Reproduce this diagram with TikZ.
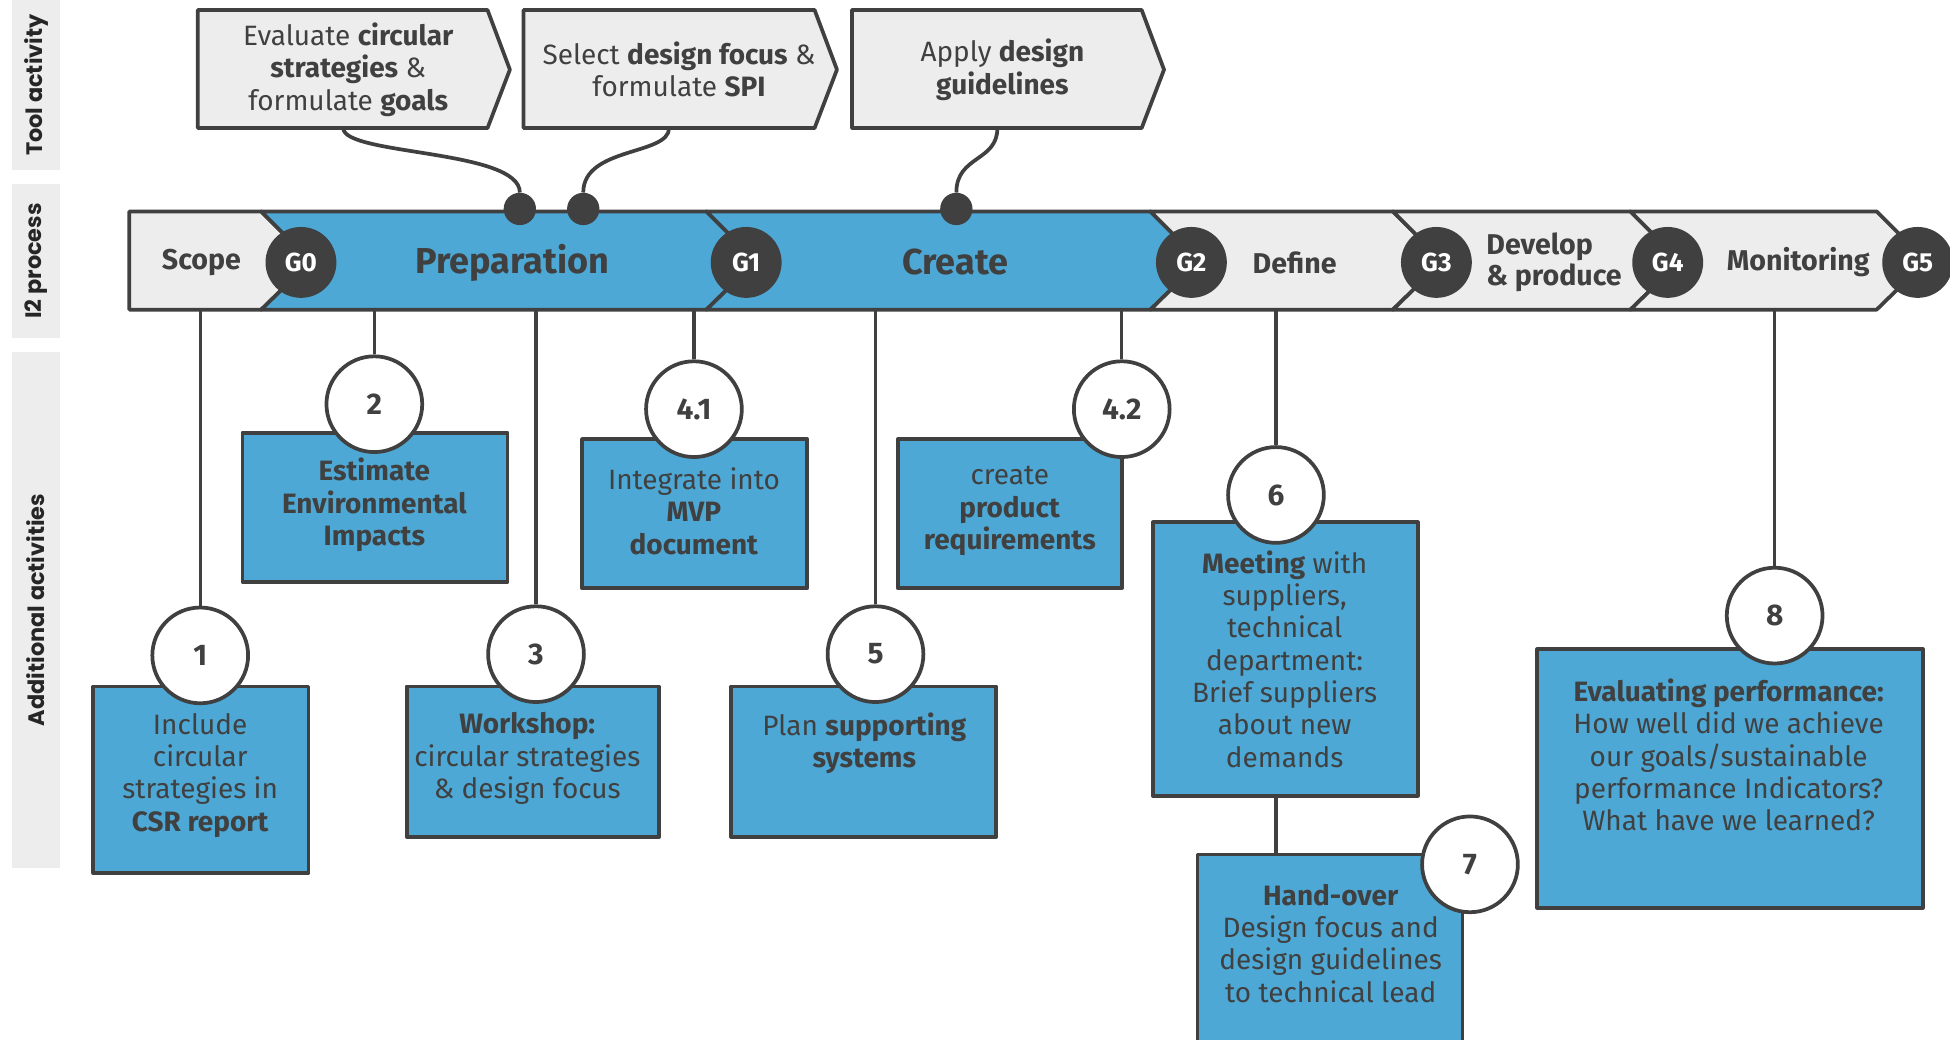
\documentclass[tikz,border=0pt]{standalone}
\usepackage{fontspec}
\setmainfont{Fira Sans}
\newfontfamily\sidefont{Poppins}
\definecolor{dk}{HTML}{404040}
\definecolor{bl}{HTML}{4DA8D5}
\definecolor{lg}{HTML}{EDEDED}
\begin{document}
\begin{tikzpicture}[x=1pt,y=-1pt,line join=round,
  every node/.style={text=dk, inner sep=0pt},
  toolshape/.style={draw=dk, fill=lg, line width=3pt},
  tooltxt/.style={align=center, font=\fontsize{22.5}{26}\selectfont},
  seggray/.style={draw=dk, fill=lg, line width=3pt},
  segblue/.style={draw=dk, fill=bl, line width=3pt},
  bartxt/.style={font=\bfseries\fontsize{23}{25}\selectfont},
  bigtxt/.style={font=\bfseries\fontsize{29}{31}\selectfont},
  gate/.style={circle, fill=dk, minimum size=57pt, text=white, font=\bfseries\fontsize{21}{24}\selectfont},
  dot/.style={circle, fill=dk, minimum size=26pt},
  conn/.style={draw=dk, line width=3pt},
  drop/.style={draw=dk, line width=2.5pt},
  num/.style={circle, draw=dk, fill=white, line width=3pt, minimum size=77pt, font=\bfseries\fontsize{24}{28}\selectfont},
  box/.style={rectangle, draw=dk, fill=bl, line width=3pt},
  boxtxt/.style={align=center, font=\fontsize{22.5}{26}\selectfont},
  band/.style={rectangle, fill=lg, rotate=90, font=\sidefont\bfseries\fontsize{18}{20}\selectfont, text=black!85}
]
\useasboundingbox (0,0) rectangle (1568,836);
\clip (0,0) rectangle (1568,836);

% side bands
\node[band, minimum width=137pt, minimum height=38pt] (sideA) at (29,68.5) {Tool activity};
\node[band, minimum width=124pt, minimum height=38pt] (sideB) at (29,210) {I2 process};
\node[band, minimum width=415pt, minimum height=38pt] (sideC) at (29,490.5) {Additional activities};

% tool boxes
\draw[toolshape] (159,8) -- (392,8) -- (410,56) -- (392,103) -- (159,103) -- cycle;
\draw[toolshape] (421,8) -- (655,8) -- (673,56) -- (655,103) -- (421,103) -- cycle;
\draw[toolshape] (685,8) -- (918,8) -- (936,56) -- (918,103) -- (685,103) -- cycle;
\node[tooltxt] (tA) at (280,56) {Evaluate \textbf{circular}\\\textbf{strategies} \&\\formulate \textbf{goals}};
\node[tooltxt] (tB) at (546,56) {Select \textbf{design focus} \&\\formulate \textbf{SPI}};
\node[tooltxt] (tC) at (806,56) {Apply \textbf{design}\\\textbf{guidelines}};
\coordinate (cA) at (276,103);
\coordinate (cB) at (538,103);
\coordinate (cC) at (802,103);

% process bar
\draw[seggray] (104,170) -- (210,170) -- (250,210) -- (210,249) -- (104,249) -- cycle;
\draw[segblue] (210,170) -- (568,170) -- (608,210) -- (568,249) -- (210,249) -- (250,210) -- cycle;
\draw[segblue] (568,170) -- (925,170) -- (965,210) -- (925,249) -- (568,249) -- (608,210) -- cycle;
\draw[seggray] (925,170) -- (1120,170) -- (1160,210) -- (1120,249) -- (925,249) -- (965,210) -- cycle;
\draw[seggray] (1120,170) -- (1311,170) -- (1351,210) -- (1311,249) -- (1120,249) -- (1160,210) -- cycle;
\draw[seggray] (1311,170) -- (1509,170) -- (1549,210) -- (1509,249) -- (1311,249) -- (1351,210) -- cycle;

\node[bartxt] (lScope) at (162,211) {Scope};
\node[bigtxt] (lPrep) at (412,211) {Preparation};
\node[bigtxt] (lCreate) at (768,211) {Create};
\node[bartxt] (lDefine) at (1041,211) {Define};
\node[bartxt, align=left, anchor=west] (lDev) at (1195,211) {Develop\\\& produce};
\node[bartxt] (lMon) at (1446,211) {Monitoring};

\node[gate] (G0) at (242,211) {G0};
\node[gate] (G1) at (600,211) {G1};
\node[gate] (G2) at (958,211) {G2};
\node[gate] (G3) at (1155,211) {G3};
\node[gate] (G4) at (1341,211) {G4};
\node[gate] (G5) at (1542,211) {G5};

% dots and connectors
\node[dot] (dA) at (418,168) {};
\node[dot] (dB) at (469,168) {};
\node[dot] (dC) at (769,168) {};
\draw[conn] (cA) .. controls (276,125) and (418,120) .. (dA);
\draw[conn] (cB) .. controls (538,125) and (469,118) .. (dB);
\draw[conn] (cC) .. controls (802,130) and (769,125) .. (dC);

% drop line starts
\coordinate (s1) at (161,249);
\coordinate (s2) at (301,249);
\coordinate (s3) at (431,249);
\coordinate (s41) at (558,249);
\coordinate (s5) at (704,249);
\coordinate (s42) at (902,249);
\coordinate (s6) at (1026,249);
\coordinate (s8) at (1427,249);

% boxes
\node[box, minimum width=173pt, minimum height=150pt] (b1) at (161.5,627) {};
\node[box, minimum width=213pt, minimum height=120pt] (b2) at (301.5,408) {};
\node[box, minimum width=203pt, minimum height=121pt] (b3) at (428.5,612.5) {};
\node[box, minimum width=181pt, minimum height=120pt] (b41) at (558.5,413) {};
\node[box, minimum width=213pt, minimum height=121pt] (b5) at (694.5,612.5) {};
\node[box, minimum width=180pt, minimum height=120pt] (b42) at (812,413) {};
\node[box, minimum width=213pt, minimum height=220pt] (b6) at (1033.5,530) {};
\node[box, minimum width=213pt, minimum height=173pt] (b7) at (1069.5,773.5) {};
\node[box, minimum width=310pt, minimum height=208pt] (b8) at (1391,626) {};

% circles
\node[num] (n1) at (161,527) {1};
\node[num] (n2) at (301,325) {2};
\node[num] (n3) at (431,526) {3};
\node[num] (n41) at (558,329) {4.1};
\node[num] (n5) at (704,526) {5};
\node[num] (n42) at (902,329) {4.2};
\node[num] (n6) at (1026,398) {6};
\node[num] (n7) at (1182,695) {7};
\node[num] (n8) at (1427,495) {8};

% drop lines
\draw[drop] (s1) -- (n1);
\draw[drop] (s2) -- (n2);
\draw[drop] (s3) -- (n3);
\draw[drop] (s41) -- (n41);
\draw[drop] (s5) -- (n5);
\draw[drop] (s42) -- (n42);
\draw[drop] (s6) -- (n6);
\draw[drop] (s8) -- (n8);
\draw[drop] (b6.south -| n6) -- (b7.north -| n6);

% box texts
\node[boxtxt] (t1) at (161,623.5) {Include\\circular\\strategies in\\\textbf{CSR report}};
\node[boxtxt] (t2) at (301,406) {\textbf{Estimate}\\\textbf{Environmental}\\\textbf{Impacts}};
\node[boxtxt] (t3) at (424,610) {\textbf{Workshop:}\\circular strategies\\\& design focus};
\node[boxtxt] (t41) at (558,411) {Integrate into\\\textbf{MVP}\\\textbf{document}};
\node[boxtxt] (t5) at (695,597.5) {Plan \textbf{supporting}\\\textbf{systems}};
\node[boxtxt] (t42) at (812,411) {create\\\textbf{product}\\\textbf{requirements}};
\node[boxtxt] (t6) at (1033,530) {\textbf{Meeting} with\\suppliers,\\technical\\department:\\Brief suppliers\\about new\\demands};
\node[boxtxt] (t7) at (1070,758.5) {\textbf{Hand-over}\\Design focus and\\design guidelines\\to technical lead};
\node[boxtxt] (t8) at (1390,607) {\textbf{Evaluating performance:}\\How well did we achieve\\our goals/sustainable\\performance Indicators?\\What have we learned?};
\end{tikzpicture}
\end{document}
